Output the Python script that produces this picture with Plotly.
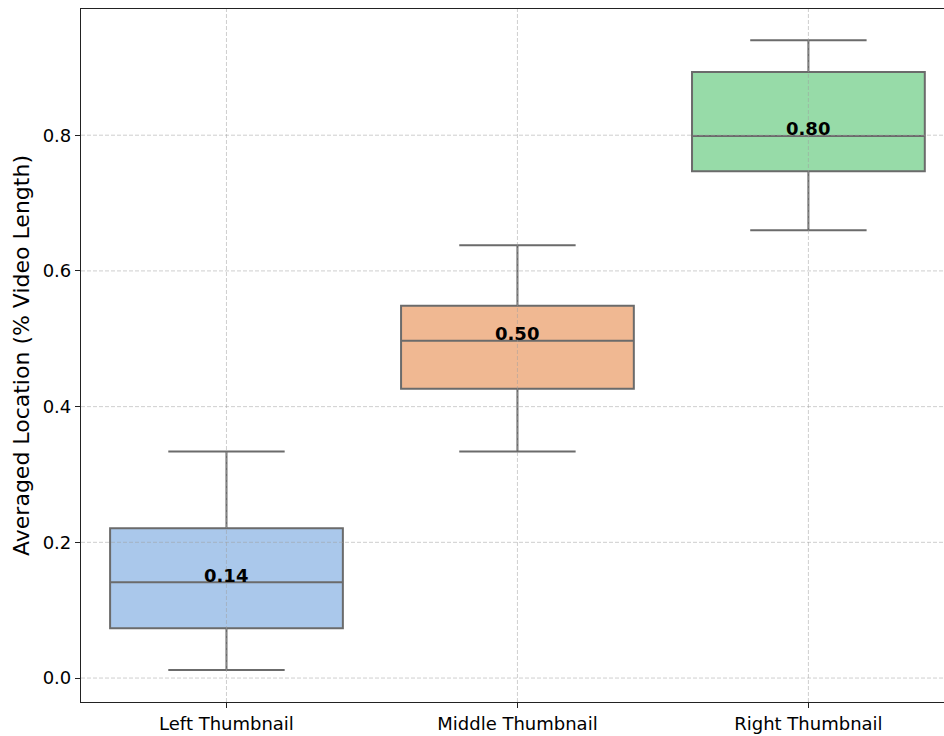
import plotly.graph_objects as go

# Summary statistics per thumbnail position
categories = ["Left Thumbnail", "Middle Thumbnail", "Right Thumbnail"]
lower_whisker = [0.012, 0.334, 0.660]
q1_values = [0.0735, 0.4265, 0.747]
median_values = [0.141, 0.497, 0.799]
q3_values = [0.2206, 0.5485, 0.893]
upper_whisker = [0.334, 0.638, 0.940]
fill_colors = ["#aac8eb", "#f0b892", "#97dba8"]

y_ticks = [0.0, 0.2, 0.4, 0.6, 0.8]

FONT = "DejaVu Sans"
LINE = "#6b6b6b"
GRID = "rgba(160,160,160,0.5)"

fig = go.Figure()
for i, cat in enumerate(categories):
    fig.add_trace(go.Box(
        x=[cat],
        q1=[q1_values[i]],
        median=[median_values[i]],
        q3=[q3_values[i]],
        lowerfence=[lower_whisker[i]],
        upperfence=[upper_whisker[i]],
        fillcolor=fill_colors[i],
        line=dict(color=LINE, width=2),
        width=0.8,
        whiskerwidth=0.5,
        boxpoints=False,
        showlegend=False,
        hoverinfo="skip",
    ))
    fig.add_annotation(
        x=cat, y=median_values[i],
        text=f"<b>{median_values[i]:.2f}</b>",
        showarrow=False,
        yshift=7,
        font=dict(family=FONT, size=18, color="black"),
    )

# Dashed grid drawn on top of the boxes
grid_line = dict(color=GRID, width=1, dash="4px,2px")
for i, _ in enumerate(categories):
    fig.add_shape(type="line", xref="x", yref="paper", x0=i, x1=i, y0=0, y1=1,
                  line=grid_line, layer="above")
for v in y_ticks:
    fig.add_shape(type="line", xref="paper", yref="y", x0=0, x1=1, y0=v, y1=v,
                  line=grid_line, layer="above")

fig.update_layout(
    width=944, height=736,
    margin=dict(l=81, r=0, t=9, b=34),
    plot_bgcolor="white",
    paper_bgcolor="white",
    font=dict(family=FONT, size=18, color="black"),
)

fig.update_xaxes(
    type="category",
    categoryorder="array", categoryarray=categories,
    range=[-0.5, 2.466],
    showline=True, linecolor="#222222", linewidth=1.2, mirror=True,
    ticks="outside", ticklen=5, tickcolor="#222222",
    showgrid=False,
    tickfont=dict(family=FONT, size=18, color="black"),
    zeroline=False,
)

fig.update_yaxes(
    range=[-0.0353, 0.986],
    tickvals=y_ticks,
    ticktext=[f"{v:.1f}" for v in y_ticks],
    showline=True, linecolor="#222222", linewidth=1.2,
    ticks="outside", ticklen=5, tickcolor="#222222",
    showgrid=False,
    tickfont=dict(family=FONT, size=18, color="black"),
    title=dict(text="Averaged Location (% Video Length)",
               font=dict(family=FONT, size=22, color="black"), standoff=6),
    zeroline=False,
)

fig.write_html("out.html")
